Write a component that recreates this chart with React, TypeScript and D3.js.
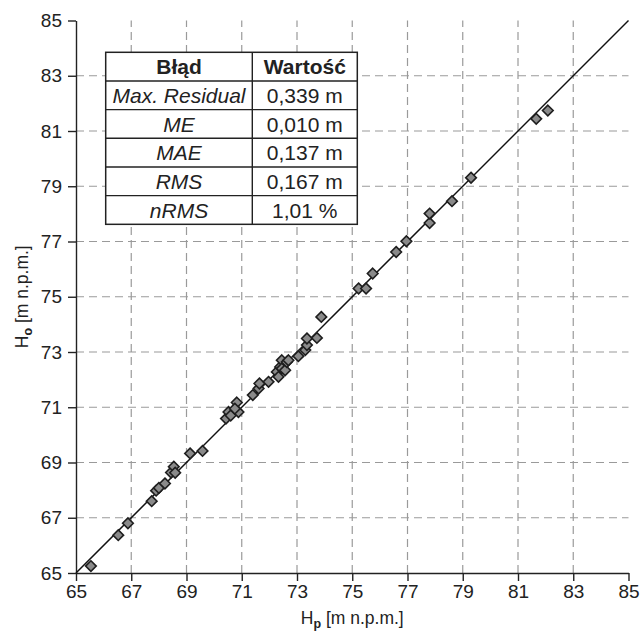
import React, { useEffect, useRef } from 'react';
import * as d3 from 'd3';

// predicted (Hp) vs observed (Ho) heights, m n.p.m.
const hp = [
  65.54, 66.53, 66.88, 67.74, 67.9, 68.0, 68.22, 68.44, 68.54, 68.59, 69.13, 69.58,
  70.43, 70.52, 70.6, 70.82, 70.88, 70.75, 71.4, 71.61, 71.64, 71.97, 72.27, 72.33,
  72.39, 72.45, 72.45, 72.57, 72.63, 72.69, 73.05, 73.3, 73.36, 73.36, 73.72, 73.88,
  75.23, 75.5, 75.74, 76.59, 76.96, 77.8, 77.8, 78.61, 79.3, 81.66, 82.08,
];
const ho = [
  65.25, 66.37, 66.8, 67.6, 67.98, 68.08, 68.24, 68.64, 68.85, 68.63, 69.33, 69.42,
  70.59, 70.83, 70.7, 71.17, 70.83, 70.95, 71.44, 71.68, 71.86, 71.92, 72.28, 72.1,
  72.46, 72.7, 72.4, 72.34, 72.64, 72.7, 72.85, 73.07, 73.25, 73.49, 73.51, 74.27,
  75.3, 75.3, 75.84, 76.62, 77.01, 77.67, 78.01, 78.46, 79.31, 81.44, 81.74,
];

const ticks = [65, 67, 69, 71, 73, 75, 77, 79, 81, 83, 85];
const gridTicks = [67, 69, 71, 73, 75, 77, 79, 81, 83];

const tableHeader = ['Błąd', 'Wartość'];
const errorNames = ['Max. Residual', 'ME', 'MAE', 'RMS', 'nRMS'];
const errorValues = ['0,339 m', '0,010 m', '0,137 m', '0,167 m', '1,01 %'];

const width = 641;
const height = 632;
const font = '"Liberation Sans", Arial, sans-serif';

function draw(node: SVGSVGElement) {
  const marginLeft = 76;
  const marginRight = 12.5;
  const marginTop = 20.5;
  const marginBottom = 59;

  const x = d3.scaleLinear([65, 85], [marginLeft, width - marginRight]);
  const y = d3.scaleLinear([65, 85], [height - marginBottom, marginTop]);

  const svg = d3.select(node);
  svg.selectAll('*').remove();
  svg.attr('font-family', font);

  // grid
  const grid = svg
    .append('g')
    .attr('stroke', '#9a9a9a')
    .attr('stroke-width', 1.2)
    .attr('stroke-dasharray', '8,5');
  grid
    .selectAll('line.v')
    .data(gridTicks)
    .join('line')
    .attr('class', 'v')
    .attr('x1', (d) => x(d))
    .attr('x2', (d) => x(d))
    .attr('y1', y(65))
    .attr('y2', y(85));
  grid
    .selectAll('line.h')
    .data(gridTicks)
    .join('line')
    .attr('class', 'h')
    .attr('y1', (d) => y(d))
    .attr('y2', (d) => y(d))
    .attr('x1', x(65))
    .attr('x2', x(85));

  // axes
  const xAxis = d3.axisBottom(x).tickValues(ticks).tickSize(8).tickSizeOuter(0).tickPadding(4);
  const yAxis = d3.axisLeft(y).tickValues(ticks).tickSize(8).tickSizeOuter(0).tickPadding(6);

  svg
    .append('g')
    .attr('transform', `translate(0,${y(65)})`)
    .call(xAxis)
    .call((g) => g.selectAll('text').attr('font-size', 19).attr('fill', '#222'))
    .call((g) => g.selectAll('.tick line, .domain').attr('stroke', '#222').attr('stroke-width', 1.4))
    .attr('font-family', font);

  svg
    .append('g')
    .attr('transform', `translate(${x(65)},0)`)
    .call(yAxis)
    .call((g) => g.selectAll('text').attr('font-size', 19).attr('fill', '#222'))
    .call((g) => g.selectAll('.tick line, .domain').attr('stroke', '#222').attr('stroke-width', 1.4))
    .attr('font-family', font);

  // 1:1 line
  svg
    .append('line')
    .attr('x1', x(65))
    .attr('y1', y(65))
    .attr('x2', x(85))
    .attr('y2', y(85))
    .attr('stroke', '#111')
    .attr('stroke-width', 1.5);

  // points
  const diamond = d3.symbol(d3.symbolDiamond2, 72);
  svg
    .append('g')
    .selectAll('path')
    .data(d3.range(hp.length))
    .join('path')
    .attr('d', diamond)
    .attr('transform', (i) => `translate(${x(hp[i])},${y(ho[i])})`)
    .attr('fill', '#8a8a8a')
    .attr('stroke', '#1e1e1e')
    .attr('stroke-width', 1.6);

  // error table
  const tx = 105.7;
  const colW = [146.6, 105];
  const rowH = 28.67;
  const tTop = 52.3;
  const rows = [tableHeader, ...errorNames.map((n, i) => [n, errorValues[i]])];
  const table = svg.append('g');
  table
    .append('rect')
    .attr('x', tx)
    .attr('y', tTop)
    .attr('width', colW[0] + colW[1])
    .attr('height', rowH * rows.length)
    .attr('fill', '#fff')
    .attr('stroke', '#222')
    .attr('stroke-width', 1.5);
  table
    .selectAll('line.row')
    .data(d3.range(1, rows.length))
    .join('line')
    .attr('x1', tx)
    .attr('x2', tx + colW[0] + colW[1])
    .attr('y1', (i) => tTop + i * rowH)
    .attr('y2', (i) => tTop + i * rowH)
    .attr('stroke', '#222')
    .attr('stroke-width', 1.4);
  table
    .append('line')
    .attr('x1', tx + colW[0])
    .attr('x2', tx + colW[0])
    .attr('y1', tTop)
    .attr('y2', tTop + rowH * rows.length)
    .attr('stroke', '#222')
    .attr('stroke-width', 1.4);

  rows.forEach((r, i) => {
    r.forEach((t, j) => {
      table
        .append('text')
        .attr('x', j === 0 ? tx + colW[0] / 2 : tx + colW[0] + colW[1] / 2)
        .attr('y', tTop + i * rowH + rowH / 2)
        .attr('dy', '0.36em')
        .attr('text-anchor', 'middle')
        .attr('font-size', 21)
        .attr('fill', '#222')
        .attr('font-weight', i === 0 ? 'bold' : 'normal')
        .attr('font-style', i > 0 && j === 0 ? 'italic' : 'normal')
        .text(t);
    });
  });

  // axis labels
  const xl = svg
    .append('text')
    .attr('x', (x(65) + x(85)) / 2)
    .attr('y', 624)
    .attr('text-anchor', 'middle')
    .attr('font-size', 17.5)
    .attr('fill', '#222');
  xl.append('tspan').text('H');
  xl.append('tspan').attr('font-size', 12.5).attr('font-weight', 'bold').attr('dy', 4).text('p');
  xl.append('tspan').attr('dy', -4).text(' [m n.p.m.]');

  const yl = svg
    .append('text')
    .attr('transform', `translate(28,${(y(65) + y(85)) / 2}) rotate(-90)`)
    .attr('text-anchor', 'middle')
    .attr('font-size', 17.5)
    .attr('fill', '#222');
  yl.append('tspan').text('H');
  yl.append('tspan').attr('font-size', 12.5).attr('font-weight', 'bold').attr('dy', 4).text('o');
  yl.append('tspan').attr('dy', -4).text(' [m n.p.m.]');
}

export default function App() {
  const ref = useRef<SVGSVGElement>(null);
  useEffect(() => {
    if (ref.current) draw(ref.current);
  }, []);
  return (
    <div style={{ position: 'absolute', left: 0, top: 0 }}>
      <svg ref={ref} width={width} height={height} style={{ display: 'block', background: '#fff' }} />
    </div>
  );
}
